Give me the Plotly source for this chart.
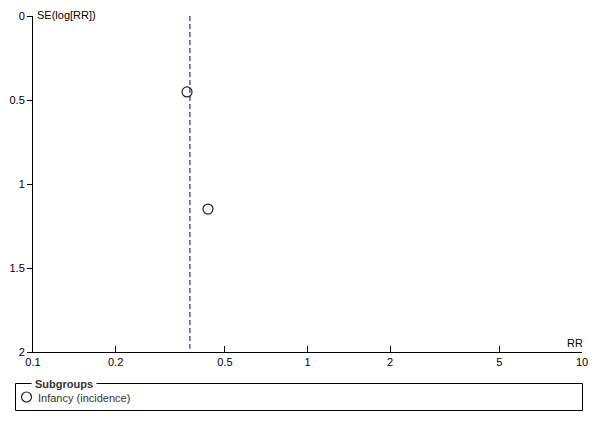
import plotly.graph_objects as go

# Data
study_rr = [0.364, 0.434]
study_se = [0.452, 1.149]
pooled_rr = 0.373
subgroup_name = "Infancy (incidence)"
x_tick_vals = [0.1, 0.2, 0.5, 1, 2, 5, 10]
x_tick_text = ["0.1", "0.2", "0.5", "1", "2", "5", "10"]
y_tick_vals = [0, 0.5, 1, 1.5, 2]
y_tick_text = ["0", "0.5", "1", "1.5", "2"]

FONT = "Liberation Sans, Arial, sans-serif"
OFF = 8  # page body margin on every side
W, H = 600 - 2 * OFF, 428 - 2 * OFF
# plot area in page pixels: x 33..582, y 16..352
L, T = 33 - OFF, 16 - OFF
R = W - (582 - OFF)
B = H - (352 - OFF)
PW, PH = W - L - R, H - T - B

def px_x(p):
    return (p - OFF - L) / PW

def px_y(p):
    return (H - B - (p - OFF)) / PH

fig = go.Figure()
fig.add_trace(go.Scatter(
    x=study_rr, y=study_se, mode="markers", name=subgroup_name,
    marker=dict(symbol="circle-open", size=10, color="#222222", line=dict(width=1.2)),
    showlegend=False, cliponaxis=False,
))

fig.add_shape(type="line", xref="x", yref="y", x0=pooled_rr, x1=pooled_rr, y0=0, y1=1.98,
              line=dict(color="#000080", width=1, dash="5px,3px"))

# Legend box
fig.add_shape(type="rect", xref="paper", yref="paper",
              x0=px_x(15.5), x1=px_x(582.5), y0=px_y(410.5), y1=px_y(383.5),
              line=dict(color="black", width=1), fillcolor="rgba(0,0,0,0)")
fig.add_annotation(xref="paper", yref="paper", x=px_x(31), y=px_y(383.5),
                   text="<b>Subgroups</b>", showarrow=False, xanchor="left", yanchor="middle",
                   bgcolor="white", borderpad=3, font=dict(family=FONT, size=11, color="#333333"))
fig.add_shape(type="circle", xref="paper", yref="paper", xsizemode="pixel", ysizemode="pixel",
              xanchor=px_x(26.5), yanchor=px_y(397), x0=-5, x1=5, y0=-5, y1=5,
              line=dict(color="#222222", width=1.2))
fig.add_annotation(xref="paper", yref="paper", x=px_x(36), y=px_y(397.5),
                   text=subgroup_name, showarrow=False, xanchor="left", yanchor="middle",
                   font=dict(family=FONT, size=11, color="#333333"))

# Axis titles
fig.add_annotation(xref="paper", yref="paper", x=px_x(36), y=px_y(8),
                   text="SE(log[RR])", showarrow=False, xanchor="left", yanchor="top",
                   borderpad=0, font=dict(family=FONT, size=11, color="black"))
fig.add_annotation(xref="paper", yref="paper", x=px_x(585), y=px_y(343),
                   text="RR", showarrow=False, xanchor="right", yanchor="middle",
                   font=dict(family=FONT, size=11, color="black"))

fig.update_layout(
    width=W, height=H, margin=dict(l=L, r=R, t=T, b=B, autoexpand=False),
    paper_bgcolor="white", plot_bgcolor="white",
    font=dict(family=FONT, size=11, color="black"),
    xaxis=dict(type="log", range=[-1, 1], tickvals=x_tick_vals, ticktext=x_tick_text,
               ticks="inside", ticklen=6, tickcolor="black", showline=True, linecolor="black",
               linewidth=1, showgrid=False, zeroline=False, tickfont=dict(size=11),
               automargin=False),
    yaxis=dict(range=[2, 0], tickvals=y_tick_vals, ticktext=y_tick_text,
               ticks="outside", ticklen=5, tickcolor="black", showline=True, linecolor="black",
               linewidth=1, showgrid=False, zeroline=False, tickfont=dict(size=11),
               automargin=False),
)

fig.write_html("out.html")
